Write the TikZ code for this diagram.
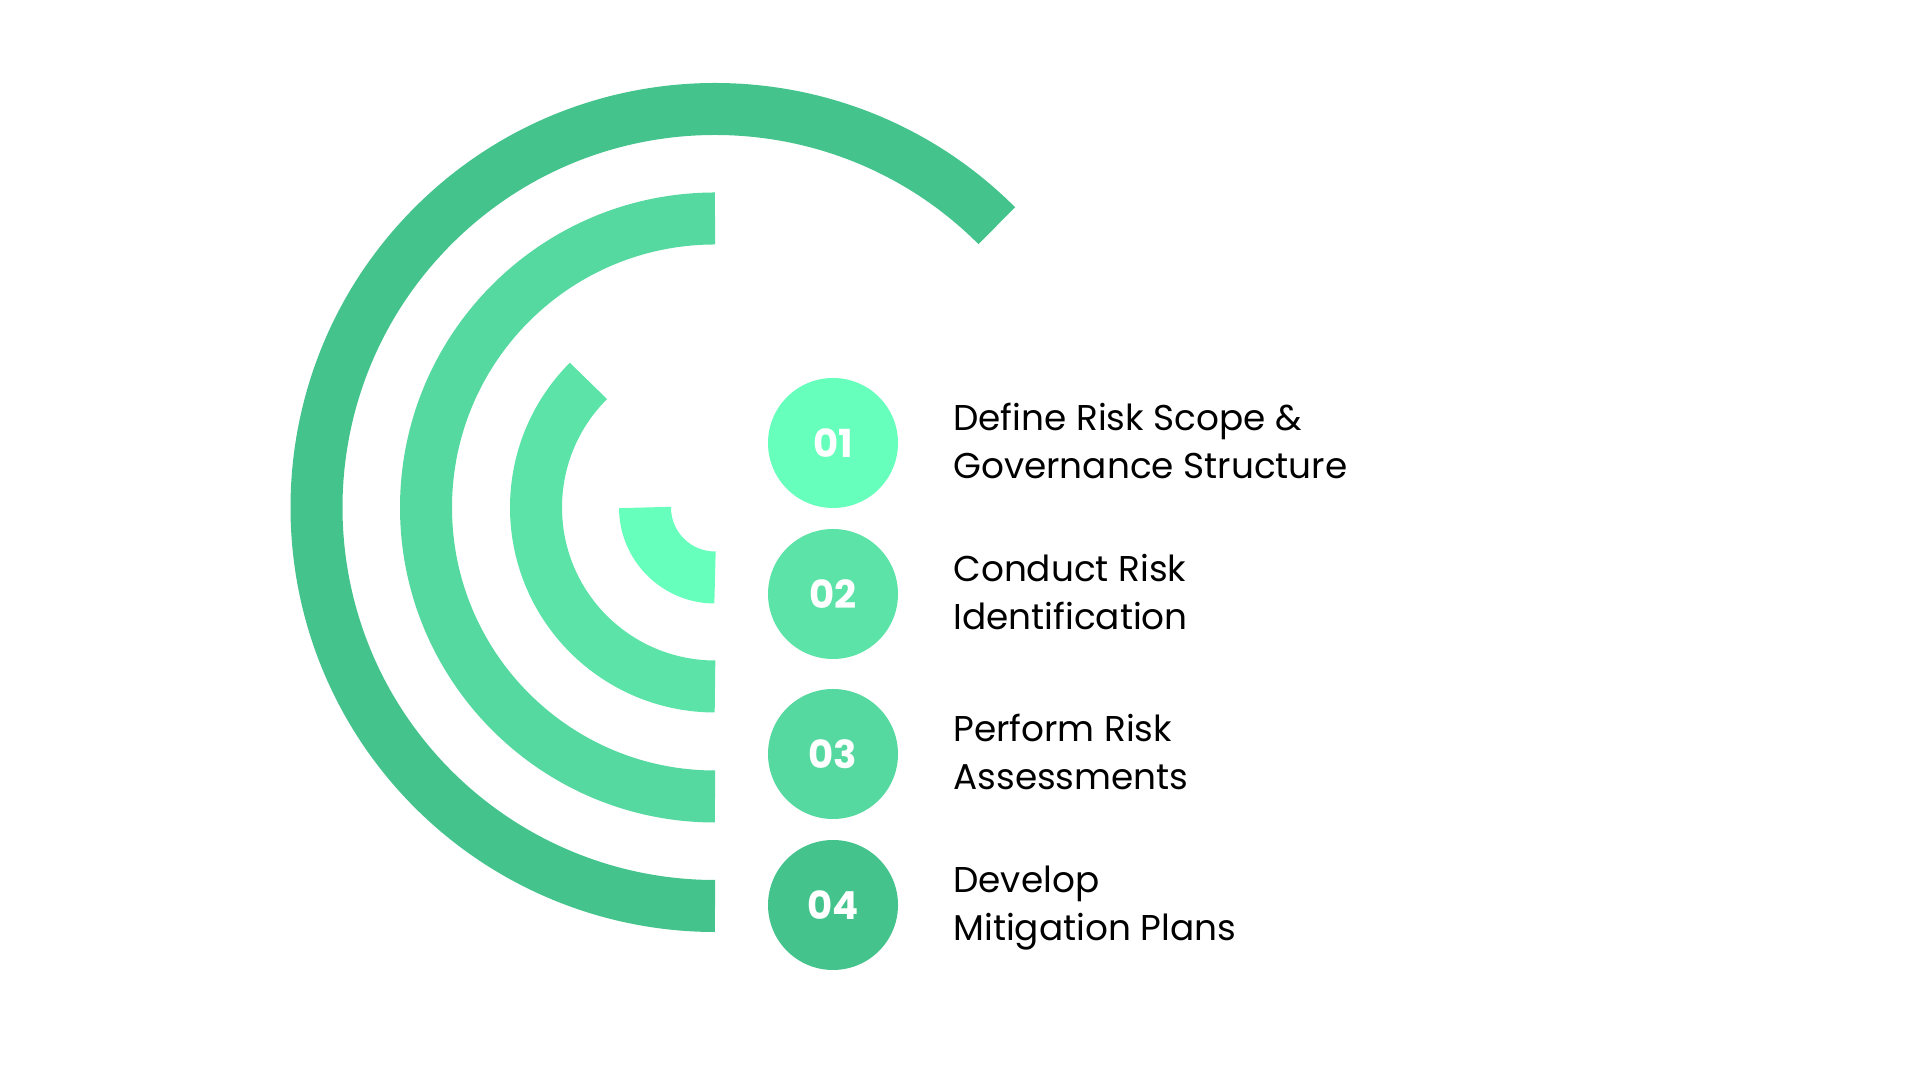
\documentclass[tikz,border=0pt]{standalone}
\usepackage{fontspec}
\setmainfont{Poppins}
\usetikzlibrary{positioning}
\definecolor{mintA}{HTML}{66FFBB}
\definecolor{mintB}{HTML}{5CE3A8}
\definecolor{mintC}{HTML}{55D9A0}
\definecolor{mintD}{HTML}{44C48C}
\begin{document}
\begin{tikzpicture}[
        ring/.style = {line width = 0.52cm},
        stepnum/.style = {circle, minimum size = 1.3cm, inner sep = 0, text = white,
            font = \fontsize{11}{11}\selectfont\bfseries},
        steptext/.style = {anchor = base west, align = left, inner sep = 0,
            font = \fontsize{10.2}{13.9}\selectfont}
    ]
        \useasboundingbox (0,0) rectangle (19.2,10.8);
        \coordinate (centre) at (7.15,5.725);
        % rings
        \draw[ring, mintD] ([shift = {(45:3.985)}]centre) arc[start angle = 45, end angle = 270, radius = 3.985];
        \draw[ring, mintC] ([shift = {(90:2.89)}]centre) arc[start angle = 90, end angle = 270, radius = 2.89];
        \draw[ring, mintB] ([shift = {(135:1.79)}]centre) arc[start angle = 135, end angle = 270, radius = 1.79];
        \draw[ring, mintA] ([shift = {(180:0.70)}]centre) arc[start angle = 180, end angle = 270, radius = 0.70];
        % step circles
        \node[stepnum, fill = mintA] (n1) at (8.33,6.37) {01};
        \node[stepnum, fill = mintB] (n2) at (8.33,4.86) {02};
        \node[stepnum, fill = mintC] (n3) at (8.33,3.26) {03};
        \node[stepnum, fill = mintD] (n4) at (8.33,1.75) {04};
        % step texts
        \begin{scope}[every node/.append style = {xshift = 0.54cm, yshift = -0.36cm}]
            \node[steptext] (t1) at (n1.east) {Define Risk Scope \&\\Governance Structure};
            \node[steptext] (t2) at (n2.east) {Conduct Risk\\Identification};
            \node[steptext] (t3) at (n3.east) {Perform Risk\\Assessments};
            \node[steptext] (t4) at (n4.east) {Develop\\Mitigation Plans};
        \end{scope}
    \end{tikzpicture}
\end{document}
